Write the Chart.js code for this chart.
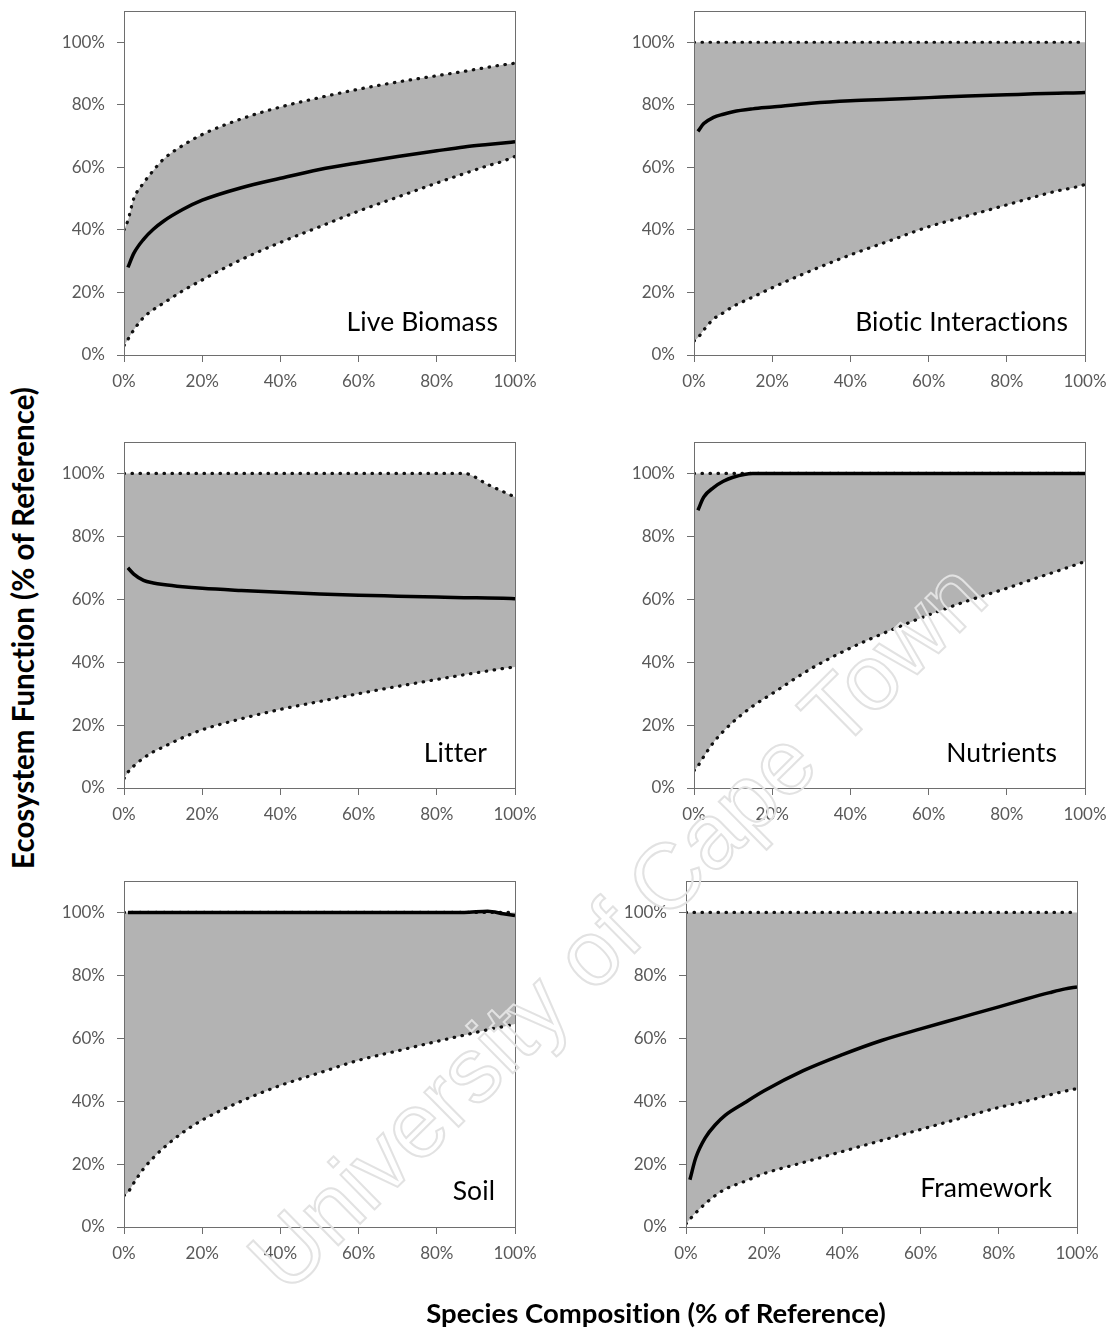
<!DOCTYPE html>
<html>
<head>
<meta charset="utf-8">
<script src="https://cdn.jsdelivr.net/npm/chart.js@4"></script>
<style>
  body { margin: 0; background: #fff; }
  #page { position: relative; width: 1111px; height: 1329px; overflow: hidden; background: #fff; }
  canvas { position: absolute; }
  .axis-title { position: absolute; font-family: Lato, sans-serif; font-weight: bold; color: #000; white-space: nowrap;
                font-variant-ligatures: none; }
  #ytitle { left: 22px; top: 628px; font-size: 29.5px; transform: translate(-50%, -50%) rotate(-90deg); }
  #xtitle { left: 656px; top: 1312px; font-size: 27.5px; transform: translate(-50%, -50%); }
  #wm { position: absolute; left: 290px; top: 1300px; font: 92px "Liberation Sans", sans-serif; line-height: 1;
        color: transparent; -webkit-text-stroke: 2px #e2e2e2; white-space: nowrap;
        transform-origin: 0 0; transform: rotate(-44.6deg) translateY(-83px); pointer-events: none; }
</style>
</head>
<body>
<div id="page">
  <canvas id="c1"></canvas>
  <canvas id="c2"></canvas>
  <canvas id="c3"></canvas>
  <canvas id="c4"></canvas>
  <canvas id="c5"></canvas>
  <canvas id="c6"></canvas>
  <div id="wm">University of Cape Town</div>
  <div class="axis-title" id="ytitle">Ecosystem Function (% of Reference)</div>
  <div class="axis-title" id="xtitle">Species Composition (% of Reference)</div>
</div>
<script>
// species composition (% of reference) - shared x values
const composition = [0, 1, 2.5, 5, 7.5, 10, 15, 20, 30, 40, 50, 60, 70, 80, 87, 93, 97, 100];

// Live Biomass
const liveUpper = [40, 43, 50, 55, 59, 62.5, 67, 70.5, 75.5, 79.3, 82.3, 85, 87.3, 89.3, 90.7, 92, 92.8, 93.3];
const liveMean  = [null, 28, 32.5, 37, 40.2, 42.7, 46.5, 49.5, 53.5, 56.5, 59.3, 61.5, 63.5, 65.3, 66.5, 67.3, 67.8, 68.2];
const liveLower = [3, 5, 8, 12, 14.5, 16.5, 20.5, 24, 30.5, 36, 41, 46, 50.5, 55, 58, 60.5, 62, 63.5];

// Biotic Interactions
const bioticUpper = [100, 100, 100, 100, 100, 100, 100, 100, 100, 100, 100, 100, 100, 100, 100, 100, 100, 100];
const bioticMean  = [null, 71.5, 74, 76, 77, 77.8, 78.7, 79.3, 80.5, 81.3, 81.8, 82.3, 82.8, 83.2, 83.5, 83.7, 83.8, 83.9];
const bioticLower = [4.5, 5.5, 8, 11.5, 13.5, 15.5, 18.5, 21.5, 27, 32, 36.5, 41, 44.5, 48, 50.5, 52.5, 53.5, 54.5];

// Litter
const litterUpper = [100, 100, 100, 100, 100, 100, 100, 100, 100, 100, 100, 100, 100, 100, 100, 96.5, 94.2, 92.5];
const litterMean  = [null, 70, 68, 66, 65.2, 64.7, 64, 63.5, 62.8, 62.2, 61.7, 61.3, 61, 60.7, 60.5, 60.4, 60.3, 60.2];
const litterLower = [3, 5, 7, 9.5, 11.5, 13, 16, 18.5, 22, 25, 27.5, 30, 32.3, 34.5, 36, 37.2, 38, 38.5];

// Nutrients
const nutrientUpper = [100, 100, 100, 100, 100, 100, 100, 100, 100, 100, 100, 100, 100, 100, 100, 100, 100, 100];
const nutrientMean  = [null, 88.3, 92.5, 95.5, 97.5, 98.8, 100, 100, 100, 100, 100, 100, 100, 100, 100, 100, 100, 100];
const nutrientLower = [5.5, 7, 10, 14.5, 18, 21, 26, 30, 38, 44.5, 50, 55, 59.5, 63.5, 66.5, 69, 70.7, 72];

// Soil
const soilUpper = [100, 100, 100, 100, 100, 100, 100, 100, 100, 100, 100, 100, 100, 100, 100, 100, 100, 100];
const soilMean  = [null, 100, 100, 100, 100, 100, 100, 100, 100, 100, 100, 100, 100, 100, 100, 100.4, 99.6, 99];
const soilLower = [10, 11, 14, 18.5, 22, 25, 30, 34, 40, 45, 49, 53, 56, 59, 61, 62.7, 63.7, 64.5];

// Framework
const frameUpper = [100, 100, 100, 100, 100, 100, 100, 100, 100, 100, 100, 100, 100, 100, 100, 100, 100, 100];
const frameMean  = [null, 15, 22, 28.5, 32.5, 35.5, 39.5, 43.3, 49.7, 54.8, 59.3, 63, 66.5, 70, 72.5, 74.5, 75.7, 76.3];
const frameLower = [1, 2.5, 4.5, 7.5, 10, 12, 14.5, 17, 20.5, 24, 27.5, 31, 34.5, 38, 40, 42, 43.2, 44];

const xTicks = [0, 20, 40, 60, 80, 100];
const yTicks = [0, 20, 40, 60, 80, 100];

// plot boxes in page pixels [left, right, top, bottom] and title offsets
const panels = [
  { id: "c1", title: "Live Biomass",        upper: liveUpper,     mean: liveMean,     lower: liveLower,     box: [124, 515, 11, 355],   tdx: 17, tdy: 24 },
  { id: "c2", title: "Biotic Interactions", upper: bioticUpper,   mean: bioticMean,   lower: bioticLower,   box: [694, 1085, 11, 355],  tdx: 17, tdy: 24 },
  { id: "c3", title: "Litter",              upper: litterUpper,   mean: litterMean,   lower: litterLower,   box: [124, 515, 442, 788],  tdx: 28, tdy: 26 },
  { id: "c4", title: "Nutrients",           upper: nutrientUpper, mean: nutrientMean, lower: nutrientLower, box: [694, 1085, 442, 788], tdx: 28, tdy: 26 },
  { id: "c5", title: "Soil",                upper: soilUpper,     mean: soilMean,     lower: soilLower,     box: [124, 515, 881, 1227], tdx: 20, tdy: 27 },
  { id: "c6", title: "Framework",           upper: frameUpper,    mean: frameMean,    lower: frameLower,    box: [686, 1077, 881, 1227], tdx: 25, tdy: 30 },
];

const Y_AXIS_W = 74, X_AXIS_H = 40, PAD_TOP = 26, PAD_RIGHT = 36;
const BAND = "#b3b3b3";
const AXIS = "#6e6e6e";

function points(arr) {
  return composition.map((x, i) => ({ x: x, y: arr[i] })).filter(p => p.y !== null);
}

// box round the plot area + the panel name in the lower right corner
const panelDecor = {
  id: "panelDecor",
  afterDatasetsDraw(chart, args, opts) {
    const a = chart.chartArea;
    const ctx = chart.ctx;
    ctx.save();
    ctx.strokeStyle = AXIS;
    ctx.lineWidth = 1;
    ctx.strokeRect(Math.round(a.left) + 0.5, Math.round(a.top) + 0.5, Math.round(a.right - a.left), Math.round(a.bottom - a.top));
    ctx.fillStyle = "#000";
    ctx.font = "26.5px Lato, sans-serif";
    ctx.letterSpacing = "0.1px"; // keeps "ti" from becoming a ligature
    ctx.textAlign = "right";
    ctx.textBaseline = "alphabetic";
    ctx.fillText(opts.text, a.right - opts.dx, a.bottom - opts.dy);
    ctx.restore();
  }
};

panels.forEach(p => {
  const [pl, pr, pt, pb] = p.box;
  const cv = document.getElementById(p.id);
  const left = pl - Y_AXIS_W, top = pt - PAD_TOP;
  const w = pr + PAD_RIGHT - left, h = pb + X_AXIS_H - top;
  cv.width = w; cv.height = h;
  cv.style.left = left + "px"; cv.style.top = top + "px";
  cv.style.width = w + "px"; cv.style.height = h + "px";

  new Chart(cv, {
    type: "line",
    data: {
      datasets: [
        {
          data: points(p.upper),
          borderColor: "#111",
          borderWidth: 3.2,
          borderDash: [0.5, 7.5],
          borderCapStyle: "round",
          pointRadius: 0,
          cubicInterpolationMode: "monotone",
          fill: false,
        },
        {
          data: points(p.lower),
          borderColor: "#111",
          borderWidth: 3.2,
          borderDash: [0.5, 7.5],
          borderCapStyle: "round",
          pointRadius: 0,
          cubicInterpolationMode: "monotone",
          backgroundColor: BAND,
          fill: 0,
        },
        {
          data: points(p.mean),
          borderColor: "#000",
          borderWidth: 3.5,
          pointRadius: 0,
          cubicInterpolationMode: "monotone",
          fill: false,
          order: -1,
        },
      ],
    },
    options: {
      responsive: false,
      animation: false,
      events: [],
      layout: { padding: { top: PAD_TOP, right: PAD_RIGHT, left: 0, bottom: 0 } },
      scales: {
        x: {
          type: "linear",
          min: 0,
          max: 100,
          afterFit: s => { s.height = X_AXIS_H; },
          afterBuildTicks: s => { s.ticks = xTicks.map(v => ({ value: v })); },
          grid: { drawOnChartArea: false, drawTicks: true, tickLength: 7, color: AXIS },
          border: { display: true, color: AXIS },
          ticks: {
            padding: 9,
            color: "#595959",
            font: { family: "Lato", size: 17 },
            maxRotation: 0,
            callback: v => v + "%",
          },
        },
        y: {
          min: 0,
          max: 110,
          afterFit: s => { s.width = Y_AXIS_W; },
          afterBuildTicks: s => { s.ticks = yTicks.map(v => ({ value: v })); },
          grid: { drawOnChartArea: false, drawTicks: true, tickLength: 7, color: AXIS },
          border: { display: true, color: AXIS },
          ticks: {
            padding: 12,
            color: "#595959",
            font: { family: "Lato", size: 17 },
            callback: v => v + "%",
          },
        },
      },
      plugins: {
        legend: { display: false },
        tooltip: { enabled: false },
        filler: { drawTime: "beforeDatasetsDraw" },
        panelDecor: { text: p.title, dx: p.tdx, dy: p.tdy },
      },
    },
    plugins: [panelDecor],
  });
});
</script>
</body>
</html>
